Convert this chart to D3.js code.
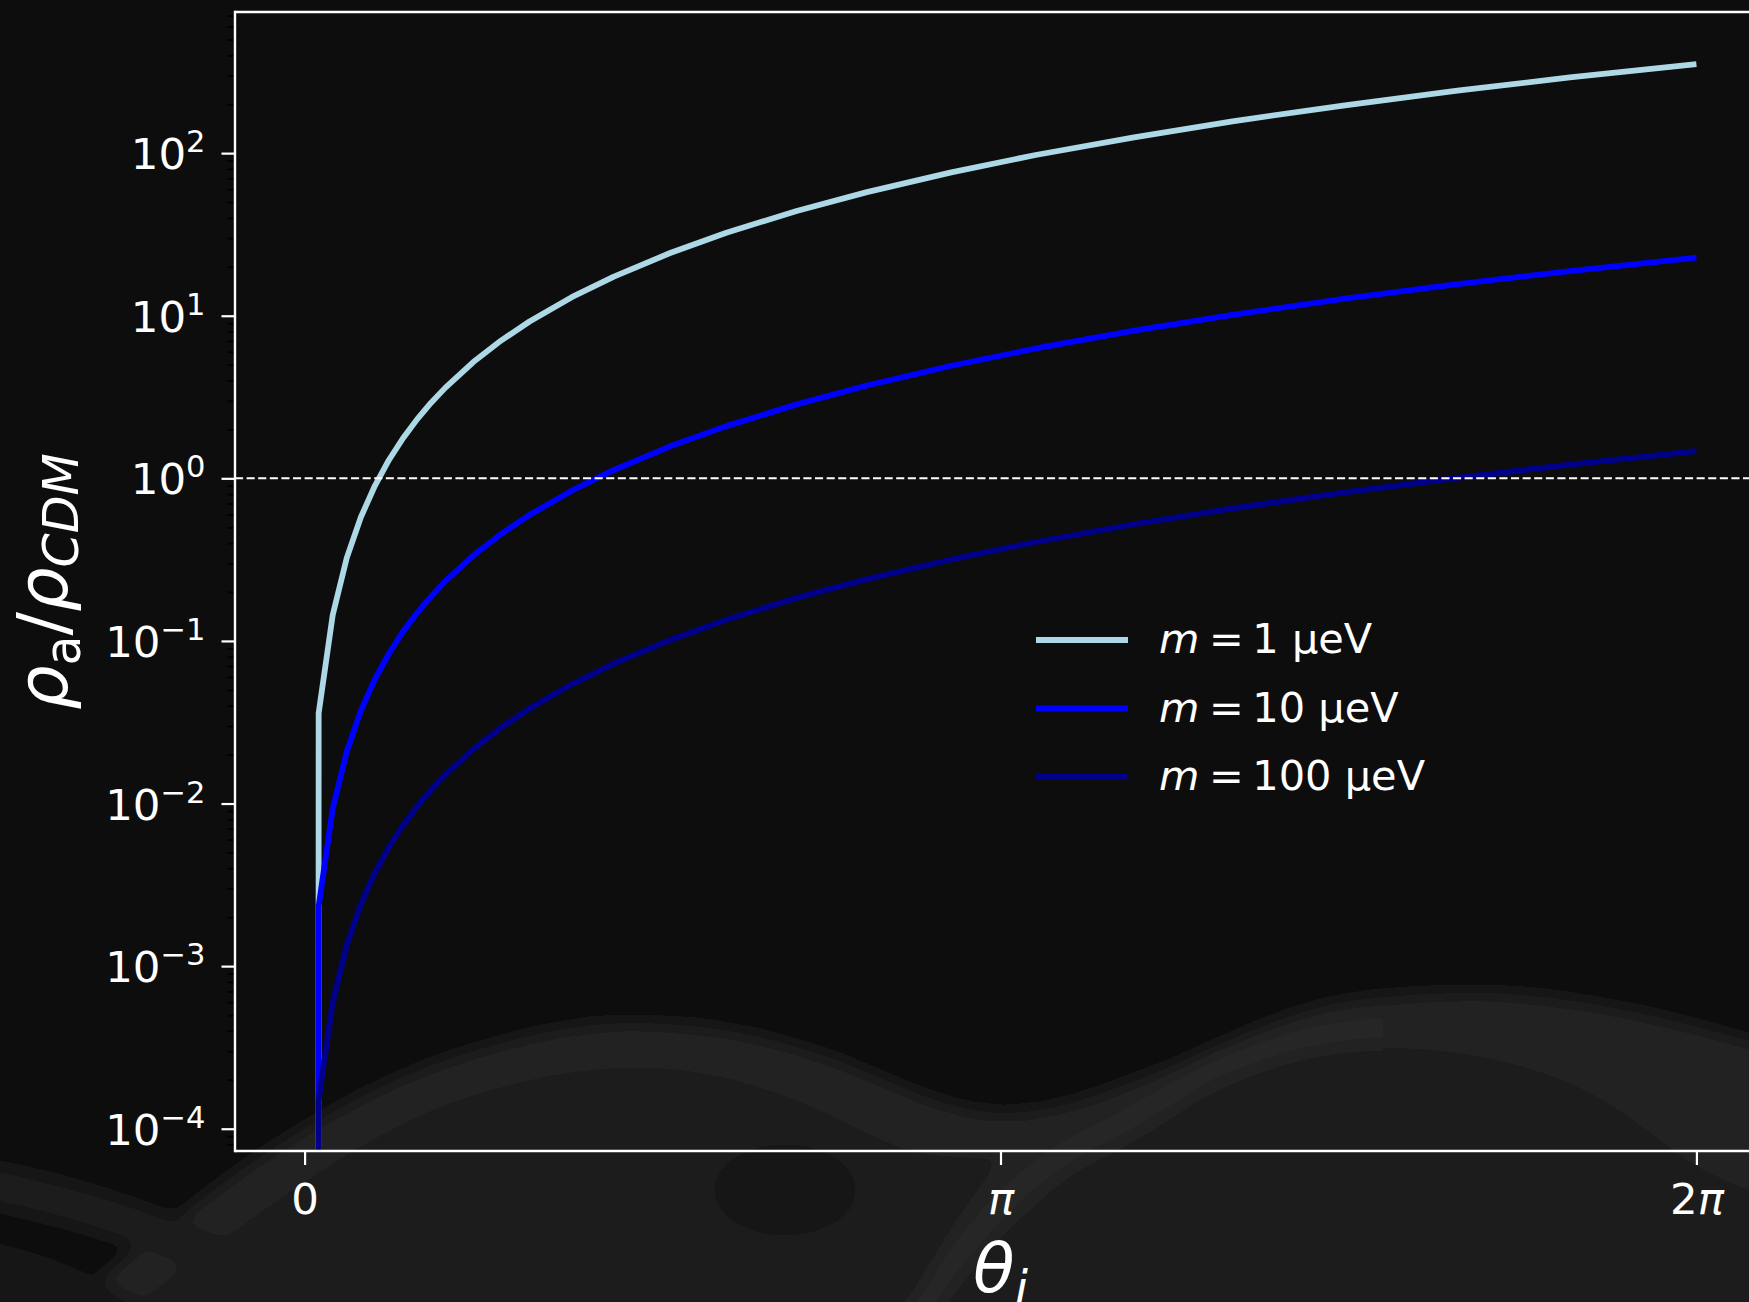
<!DOCTYPE html>
<html>
<head>
<meta charset="utf-8">
<script src="https://cdn.jsdelivr.net/npm/d3@7"></script>
<style>
  html, body { margin: 0; padding: 0; background: #0b0b0b; }
  svg { display: block; }
  text { font-family: "DejaVu Sans", sans-serif; fill: #fff; }
</style>
</head>
<body>
<div id="chart"></div>
<script>
'use strict';

// initial misalignment angle theta_i (radians)
var theta = [0, 0.0635, 0.1269, 0.1904, 0.2539, 0.3173, 0.3808, 0.4443, 0.5077, 0.5712,
    0.6347, 0.7616, 0.8885, 1.0155, 1.2059, 1.3962, 1.6501, 1.9040, 2.2213, 2.5386,
    2.9194, 3.3002, 3.7445, 4.1888, 4.6965, 5.2042, 5.7119, 6.2832];

// rho_a / rho_CDM
var rho1uev = [0, 0.0360, 0.144, 0.324, 0.576, 0.900, 1.297, 1.765, 2.305, 2.917,
    3.60, 5.19, 7.06, 9.22, 13.0, 17.4, 24.3, 32.4, 44.1, 57.6,
    76.2, 97.4, 125, 157, 197, 242, 292, 353];
var rho10uev = [0, 0.00233, 0.00930, 0.0209, 0.0372, 0.0582, 0.0837, 0.114, 0.149, 0.188,
    0.233, 0.335, 0.456, 0.596, 0.840, 1.126, 1.573, 2.094, 2.850, 3.722,
    4.923, 6.290, 8.098, 10.13, 12.74, 15.64, 18.84, 22.8];
var rho100uev = [0, 0.000150, 0.000600, 0.00135, 0.00240, 0.00375, 0.00540, 0.00735, 0.00960, 0.01215,
    0.0150, 0.0216, 0.0294, 0.0384, 0.0541, 0.0726, 0.1014, 0.135, 0.184, 0.240,
    0.317, 0.406, 0.522, 0.653, 0.821, 1.008, 1.215, 1.47];

var massLabels = ['1', '10', '100'];
var lineColors = ['#add8e6', '#0000ff', '#00008b'];

var xTickValues = [0, Math.PI, 2 * Math.PI];
var xTickLabels = ['0', '\u03c0', '2\u03c0'];
var yTickExponents = [-4, -3, -2, -1, 0, 1, 2];

var svgWidth = 1749, svgHeight = 1302;
var plotLeft = 235, plotRight = 1766, plotTop = 12, plotBottom = 1151;

var svg = d3.select('#chart').append('svg')
    .attr('width', svgWidth)
    .attr('height', svgHeight);

var defs = svg.append('defs');
defs.append('clipPath').attr('id', 'plot-clip')
    .append('rect')
    .attr('x', plotLeft).attr('y', plotTop)
    .attr('width', plotRight - plotLeft).attr('height', plotBottom - plotTop);
defs.append('filter').attr('id', 'soft')
    .attr('filterUnits', 'userSpaceOnUse')
    .attr('x', -100).attr('y', -100).attr('width', svgWidth + 200).attr('height', svgHeight + 200)
    .append('feGaussianBlur').attr('stdDeviation', 9);

// slide background: soft grey waves at the bottom
var bg = svg.append('g').attr('filter', 'url(#soft)');
bg.append('rect').attr('x', -50).attr('y', -50).attr('width', svgWidth + 100).attr('height', svgHeight + 100).attr('fill', '#0b0b0b');
bg.append('path')
    .attr('d', 'M-20,1330 L-20,1250 C100,1180 200,1100 260,1050 C350,975 450,935 600,915 C800,885 1000,900 1200,930 C1400,950 1600,945 1780,940 L1780,1330 Z')
    .attr('fill', '#0e0e0e');
bg.append('path')
    .attr('d', 'M40,1330 C90,1290 130,1250 167,1227 C260,1150 360,1090 446,1060 C520,1035 580,1023 630,1023 C720,1023 780,1040 837,1060 C900,1085 950,1113 1004,1113 C1060,1113 1110,1090 1171,1067 C1230,1040 1290,1012 1339,1003 C1390,994 1440,993 1484,993 C1580,995 1680,1020 1780,1050 L1780,1330 Z')
    .attr('fill', '#232323');
bg.append('path')
    .attr('d', 'M100,1330 C200,1260 330,1150 446,1105 C530,1075 590,1068 640,1068 C720,1068 790,1095 850,1125 C880,1140 900,1150 930,1155 L1000,1160 C960,1210 930,1260 905,1330 Z')
    .attr('fill', '#1a1a1a');
bg.append('ellipse')
    .attr('cx', 785).attr('cy', 1190).attr('rx', 70).attr('ry', 45)
    .attr('fill', '#171717');
bg.append('path')
    .attr('d', 'M926,1330 C990,1240 1050,1180 1115,1150 C1170,1120 1190,1100 1227,1083 C1280,1060 1330,1048 1383,1048 C1450,1048 1510,1060 1562,1080 C1610,1100 1640,1125 1673,1150 C1700,1170 1730,1185 1780,1200 L1780,1330 Z')
    .attr('fill', '#1b1b1b');
bg.append('path')
    .attr('d', 'M905,1330 C970,1230 1030,1165 1100,1135 C1160,1105 1180,1085 1220,1067 C1280,1042 1330,1030 1383,1030')
    .attr('fill', 'none').attr('stroke', '#282828').attr('stroke-width', 22);
bg.append('path')
    .attr('d', 'M-20,1183 C100,1205 220,1250 335,1320')
    .attr('fill', 'none').attr('stroke', '#1e1e1e').attr('stroke-width', 40);
bg.append('path')
    .attr('d', 'M-20,1240 C60,1255 120,1285 170,1330 L-20,1330 Z')
    .attr('fill', '#191919');

var x = d3.scaleLinear()
    .domain([-0.1 * Math.PI, 2.1 * Math.PI])
    .range([plotLeft, plotRight]);

var y = d3.scaleLog()
    .domain([Math.pow(10, -4.137), Math.pow(10, 2.868)])
    .range([plotBottom, plotTop]);

// zero is clipped far below the axes, as a log axis does
var line = d3.line()
    .x(function(d) { return x(d[0]); })
    .y(function(d) { return y(Math.max(d[1], 1e-300)); });

var series = [rho1uev, rho10uev, rho100uev];
var plot = svg.append('g').attr('clip-path', 'url(#plot-clip)');

series.forEach(function(values, i) {
    plot.append('path')
        .datum(d3.zip(theta, values))
        .attr('d', line)
        .attr('fill', 'none')
        .attr('stroke', lineColors[i])
        .attr('stroke-width', 5.8)
        .attr('stroke-linejoin', 'round');
});

plot.append('line')
    .attr('x1', plotLeft).attr('x2', plotRight)
    .attr('y1', y(1)).attr('y2', y(1))
    .attr('stroke', '#fff')
    .attr('stroke-width', 2)
    .attr('stroke-dasharray', '8.1,3.5');

// minor log ticks (black, as in the source)
var minorTicks = [];
d3.range(-5, 3).forEach(function(e) {
    d3.range(2, 10).forEach(function(m) {
        var v = m * Math.pow(10, e);
        if (v >= y.domain()[0] && v <= y.domain()[1]) minorTicks.push(v);
    });
});
var gMinor = svg.append('g')
    .attr('transform', 'translate(' + plotLeft + ',0)')
    .call(d3.axisLeft(y).tickValues(minorTicks).tickSize(7.5).tickFormat(function() { return ''; }));
gMinor.select('.domain').remove();
gMinor.selectAll('.tick line').attr('stroke', '#000').attr('stroke-width', 1.8);

var gy = svg.append('g')
    .attr('transform', 'translate(' + plotLeft + ',0)')
    .call(d3.axisLeft(y)
        .tickValues(yTickExponents.map(function(e) { return Math.pow(10, e); }))
        .tickSize(13.5)
        .tickPadding(16)
        .tickFormat(function() { return ''; }));
gy.select('.domain').remove();
gy.selectAll('.tick line').attr('stroke', '#fff').attr('stroke-width', 2.2);
gy.selectAll('.tick text')
    .attr('dy', 15.5)
    .attr('font-family', '"DejaVu Sans", sans-serif')
    .attr('font-size', 43.5)
    .attr('fill', '#fff')
    .each(function(d, i) {
        var e = yTickExponents[i];
        var t = d3.select(this);
        t.append('tspan').text('10');
        t.append('tspan')
            .attr('dy', -17)
            .attr('font-size', 30.5)
            .text(e < 0 ? '\u2212' + (-e) : String(e));
    });

var gx = svg.append('g')
    .attr('transform', 'translate(0,' + plotBottom + ')')
    .call(d3.axisBottom(x)
        .tickValues(xTickValues)
        .tickSize(14)
        .tickFormat(function() { return ''; }));
gx.select('.domain').remove();
gx.selectAll('.tick line').attr('stroke', '#fff').attr('stroke-width', 2.2);
gx.selectAll('.tick text')
    .attr('y', 63)
    .attr('dy', 0)
    .attr('font-family', '"DejaVu Sans", sans-serif')
    .attr('font-size', 43.5)
    .attr('fill', '#fff')
    .each(function(d, i) {
        var t = d3.select(this);
        xTickLabels[i].split('').forEach(function(ch) {
            t.append('tspan')
                .attr('font-style', ch === '\u03c0' ? 'italic' : 'normal')
                .text(ch);
        });
    });

// spines (right one lies outside the picture)
var spines = svg.append('g').attr('stroke', '#fff').attr('stroke-width', 2.4);
spines.append('line').attr('x1', plotLeft).attr('x2', plotLeft).attr('y1', plotTop - 1.2).attr('y2', plotBottom + 1.2);
spines.append('line').attr('x1', plotLeft).attr('x2', plotRight).attr('y1', plotTop).attr('y2', plotTop);
spines.append('line').attr('x1', plotLeft).attr('x2', plotRight).attr('y1', plotBottom).attr('y2', plotBottom);

// axis labels
var ylab = svg.append('text')
    .attr('transform', 'translate(67,' + ((plotTop + plotBottom) / 2) + ') rotate(-90)')
    .attr('text-anchor', 'middle')
    .attr('font-size', 70);
ylab.append('tspan').attr('font-style', 'italic').text('\u03c1');
ylab.append('tspan').attr('font-size', 49).attr('dy', 13).text('a');
ylab.append('tspan').attr('dy', -13).text('/');
ylab.append('tspan').attr('font-style', 'italic').text('\u03c1');
ylab.append('tspan').attr('font-style', 'italic').attr('font-size', 49).attr('dy', 11).text('CDM');

var xlab = svg.append('text')
    .attr('x', (plotLeft + plotRight) / 2)
    .attr('y', 1292)
    .attr('text-anchor', 'middle')
    .attr('font-size', 68);
xlab.append('tspan').attr('font-style', 'italic').text('\u03b8');
xlab.append('tspan').attr('font-style', 'italic').attr('font-size', 47.6).attr('dy', 13).text('i');

// legend, no frame
var legend = svg.append('g').attr('transform', 'translate(1036,640)');
massLabels.forEach(function(m, i) {
    var row = legend.append('g').attr('transform', 'translate(0,' + (i * 68.5) + ')');
    row.append('line')
        .attr('x1', 0).attr('x2', 92)
        .attr('stroke', lineColors[i])
        .attr('stroke-width', 5.8);
    var t = row.append('text')
        .attr('x', 123)
        .attr('y', 13)
        .attr('font-size', 41.5);
    t.append('tspan').attr('font-style', 'italic').text('m');
    t.append('tspan').attr('dx', 9.5).text('=');
    t.append('tspan').attr('dx', 8.6).text(m + ' \u03bceV');
});
</script>
</body>
</html>
